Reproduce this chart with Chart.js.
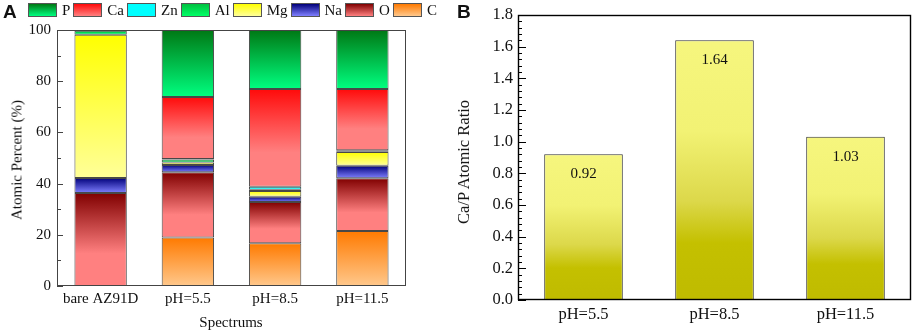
<!DOCTYPE html>
<html>
<head>
<meta charset="utf-8">
<script src="https://cdn.jsdelivr.net/npm/chart.js@4.4.0/dist/chart.umd.min.js"></script>
<style>
  body { margin: 0; background: #fff; width: 913px; height: 332px; overflow: hidden; position: relative;
         font-family: "Liberation Serif", "Times New Roman", serif; color: #111; }
  canvas { position: absolute; top: 0; }
  #chartA { left: 0; }
  #chartB { left: 455px; }
  .panel { position: absolute; top: 1px; font-family: "Liberation Sans", Arial, sans-serif; font-weight: bold; font-size: 19px; }
  .ytitle { position: absolute; white-space: nowrap; font-size: 15px; transform: translate(-50%, -50%) rotate(-90deg); }
  .xtitle { position: absolute; white-space: nowrap; font-size: 15px; transform: translate(-50%, -50%); }
  #legend { position: absolute; left: 28px; top: 3px; display: flex; gap: 3px; font-size: 15px; line-height: 14px; }
  #legend span.sw { display: inline-block; width: 27px; height: 12px; border: 1px solid #555; margin-right: 5px; vertical-align: top; }
  #legend div { display: flex; align-items: center; }
</style>
</head>
<body>
<canvas id="chartA" width="455" height="332"></canvas>
<canvas id="chartB" width="458" height="332"></canvas>
<div class="panel" style="left:3px">A</div>
<div class="panel" style="left:457px">B</div>
<div id="legend"></div>
<div class="ytitle" style="left:17px;top:160px">Atomic Percent (%)</div>
<div class="xtitle" style="left:231px;top:322px">Spectrums</div>
<div class="ytitle" style="left:464px;top:162px;font-size:16.5px">Ca/P Atomic Ratio</div>
<script>
// Panel A: atomic percent of each element (stack order bottom -> top)
const spectrums = ['bare AZ91D', 'pH=5.5', 'pH=8.5', 'pH=11.5'];
const C  = [0, 18.9, 16.7, 21.5];
const O  = [36.3, 25.5, 16.1, 20.6];
const Na = [5.9, 2.9, 2.1, 4.9];
const Mg = [55.9, 0.9, 2.2, 5.3];
const Al = [1.6, 1.2, 0.5, 0.3];
const Zn = [0.3, 0.2, 1.2, 0.4];
const Ca = [0, 24.2, 38.2, 24.0];
const P  = [0, 26.2, 23.0, 23.0];
const percentTicks = [0, 20, 40, 60, 80, 100];

// Panel B: Ca/P ratio
const phLabels = ['pH=5.5', 'pH=8.5', 'pH=11.5'];
const caPRatio = [0.92, 1.64, 1.03];
const ratioTicks = [0.0, 0.2, 0.4, 0.6, 0.8, 1.0, 1.2, 1.4, 1.6, 1.8];

const serif = '"Liberation Serif", "Times New Roman", serif';

// element name, values, gradient top colour, bottom colour, where the bottom colour is reached
const elements = [
  ['C',  C,  '#ff7a00', '#ffc88c', 1],
  ['O',  O,  '#800000', '#ff8080', 0.65],
  ['Na', Na, '#00007a', '#8080ff', 1],
  ['Mg', Mg, '#ffff00', '#ffff99', 1],
  ['Al', Al, '#00c040', '#00ff66', 1],
  ['Zn', Zn, '#00ffff', '#00ffff', 1],
  ['Ca', Ca, '#ff0a0a', '#ff8080', 0.65],
  ['P',  P,  '#007814', '#00ff80', 1]
];

// html legend, top of stack first
const legendEl = document.getElementById('legend');
elements.slice().reverse().forEach(e => {
  const item = document.createElement('div');
  item.innerHTML = `<span class="sw" style="background:linear-gradient(to bottom, ${e[2]}, ${e[3]})"></span>${e[0]}`;
  legendEl.appendChild(item);
});

// inward tick marks and frame box
const frameTicks = {
  id: 'frameTicks',
  afterDraw(chart, args, opts) {
    const { ctx, chartArea: a } = chart;
    const y = chart.scales.y;
    ctx.save();
    ctx.strokeStyle = opts.color;
    ctx.lineWidth = 1;
    ctx.beginPath();
    const n = Math.round((y.max - y.min) / opts.minor);
    for (let i = 0; i <= n; i++) {
      const py = Math.round(y.getPixelForValue(y.min + i * opts.minor)) + 0.5;
      const len = i % opts.every === 0 ? opts.majorLen : opts.minorLen;
      ctx.moveTo(a.left, py);
      ctx.lineTo(a.left + len, py);
    }
    ctx.stroke();
    ctx.lineWidth = opts.frameWidth;
    ctx.strokeRect(Math.round(a.left) + 0.5, Math.round(a.top) + 0.5,
                   Math.round(a.right - a.left) - 1, Math.round(a.bottom - a.top) - 1);
    ctx.restore();
  }
};

// gradient for one stacked segment, from the y scale
function segmentFill(ctxt, d) {
  const chart = ctxt.chart;
  const y = chart.scales.y;
  const e = elements[d];
  if (!chart.chartArea || !y || ctxt.dataIndex === undefined) return e[2];
  let base = 0;
  for (let k = 0; k < d; k++) base += elements[k][1][ctxt.dataIndex];
  const top = y.getPixelForValue(base + e[1][ctxt.dataIndex]);
  const bot = y.getPixelForValue(base);
  if (bot - top < 1) return e[2];
  const g = chart.ctx.createLinearGradient(0, top, 0, bot);
  g.addColorStop(0, e[2]);
  g.addColorStop(e[4], e[3]);
  g.addColorStop(1, e[3]);
  return g;
}

new Chart(document.getElementById('chartA'), {
  type: 'bar',
  data: {
    labels: spectrums,
    datasets: elements.map((e, d) => ({
      label: e[0],
      data: e[1],
      backgroundColor: c => segmentFill(c, d),
      borderColor: 'rgba(40,40,40,0.85)',
      borderWidth: 1,
      borderSkipped: false,
      barPercentage: 0.6,
      categoryPercentage: 1
    }))
  },
  options: {
    responsive: false,
    animation: false,
    layout: { padding: { top: 30, right: 49, left: 0, bottom: 0 } },
    plugins: {
      legend: { display: false },
      tooltip: { enabled: false },
      frameTicks: { color: '#444', frameWidth: 1, minor: 10, every: 2, majorLen: 6, minorLen: 4 }
    },
    scales: {
      x: {
        stacked: true,
        grid: { display: false, drawTicks: false },
        border: { display: false },
        ticks: { color: '#111', font: { family: serif, size: 15 }, padding: 4, maxRotation: 0 },
        afterFit(s) { s.height = 46; }
      },
      y: {
        stacked: true,
        min: 0,
        max: 100,
        afterBuildTicks(s) { s.ticks = percentTicks.map(v => ({ value: v })); },
        grid: { display: false, drawTicks: false },
        border: { display: false },
        ticks: { color: '#111', font: { family: serif, size: 15 }, padding: 6 },
        afterFit(s) { s.width = 57; }
      }
    }
  },
  plugins: [frameTicks]
});

// value labels inside the top of each bar
const barValues = {
  id: 'barValues',
  afterDatasetsDraw(chart) {
    const ctx = chart.ctx;
    ctx.save();
    ctx.fillStyle = '#111';
    ctx.font = '15px ' + serif;
    ctx.textAlign = 'center';
    ctx.textBaseline = 'middle';
    chart.getDatasetMeta(0).data.forEach((bar, i) => {
      ctx.fillText(caPRatio[i].toFixed(2), bar.x, bar.y + 20);
    });
    ctx.restore();
  }
};

function ratioFill(c) {
  const chart = c.chart;
  const y = chart.scales.y;
  if (!chart.chartArea || !y || c.raw === undefined) return '#e8e860';
  const top = y.getPixelForValue(c.raw);
  const bot = y.getPixelForValue(0);
  const g = chart.ctx.createLinearGradient(0, top, 0, bot);
  g.addColorStop(0, '#f6f67e');
  g.addColorStop(0.35, '#f2f274');
  g.addColorStop(0.62, '#dcd84a');
  g.addColorStop(0.78, '#c4c000');
  g.addColorStop(1, '#bfbb00');
  return g;
}

new Chart(document.getElementById('chartB'), {
  type: 'bar',
  data: {
    labels: phLabels,
    datasets: [{
      label: 'Ca/P',
      data: caPRatio,
      backgroundColor: ratioFill,
      borderColor: '#333',
      borderWidth: 1,
      borderSkipped: false,
      barPercentage: 0.6,
      categoryPercentage: 1
    }]
  },
  options: {
    responsive: false,
    animation: false,
    layout: { padding: { top: 13, right: 2, left: 0, bottom: 0 } },
    plugins: {
      legend: { display: false },
      tooltip: { enabled: false },
      frameTicks: { color: '#000', frameWidth: 1.4, minor: 0.04, every: 5, majorLen: 8, minorLen: 4 }
    },
    scales: {
      x: {
        grid: { display: false, drawTicks: false },
        border: { display: false },
        ticks: { color: '#111', font: { family: serif, size: 16.5 }, padding: 5, maxRotation: 0 },
        afterFit(s) { s.height = 32; }
      },
      y: {
        min: 0,
        max: 1.8,
        afterBuildTicks(s) { s.ticks = ratioTicks.map(v => ({ value: v })); },
        grid: { display: false, drawTicks: false },
        border: { display: false },
        ticks: { color: '#111', font: { family: serif, size: 16.5 }, padding: 5, callback: v => Number(v).toFixed(1) },
        afterFit(s) { s.width = 63; }
      }
    }
  },
  plugins: [frameTicks, barValues]
});
</script>
</body>
</html>
